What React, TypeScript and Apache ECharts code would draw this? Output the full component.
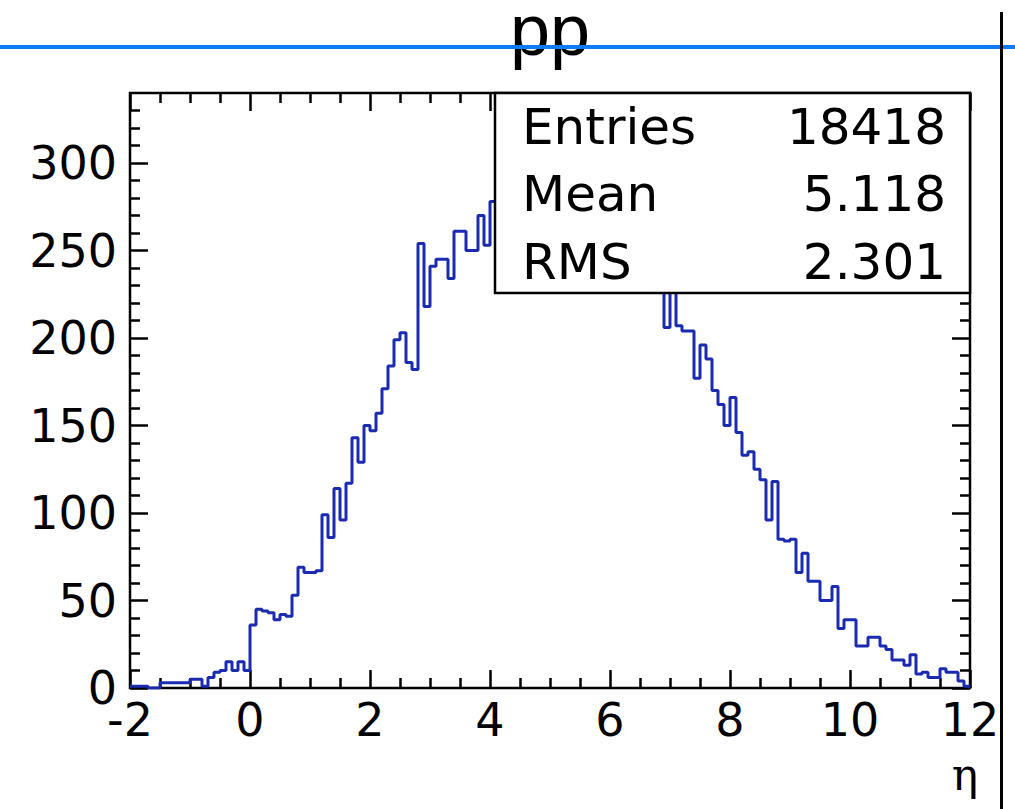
import React, { useEffect, useRef } from "react";
import * as echarts from "echarts";

// Histogram definition: 140 bins of width 0.1 from -2 to 12
const binStart = -2;
const binWidth = 0.1;
const counts = [
  // -2.0 .. -0.1
  1, 1, 1, 0, 0, 3, 3, 3, 3, 3, 5, 5, 1, 6, 9, 10, 15, 10, 15, 10,
  // 0.0 .. 2.7
  36, 45, 44, 43, 39, 42, 41, 53, 69, 66, 66, 67, 99, 86, 114, 96, 117, 143, 129, 150,
  147, 157, 171, 184, 199, 203, 186, 182,
  // 2.8 .. 4.0
  254, 218, 241, 245, 245, 234, 261, 261, 250, 250, 270, 253, 278,
  // 4.1 .. 6.8 (mostly behind the stats box)
  282, 271, 287, 291, 278, 294, 289, 297, 284, 300, 291, 286, 302, 292, 284, 295, 280,
  288, 274, 283, 268, 259, 272, 255, 249, 260, 243, 236,
  // 6.9 .. 11.9
  206, 235, 207, 204, 204, 177, 196, 188, 170, 162, 150, 166, 146, 133, 135, 125, 119,
  96, 118, 85, 84, 85, 66, 77, 61, 61, 50, 50, 58, 34, 39, 39, 24, 24, 29, 29, 24, 22,
  16, 16, 13, 19, 8, 9, 6, 6, 11, 9, 9, 4, 1,
];

const xMajorTicks = [-2, 0, 2, 4, 6, 8, 10, 12];
const xMinorTicks = [
  -1.5, -1, -0.5, 0.5, 1, 1.5, 2.5, 3, 3.5, 4.5, 5, 5.5, 6.5, 7, 7.5, 8.5, 9, 9.5,
  10.5, 11, 11.5,
];
const yMajorTicks = [0, 50, 100, 150, 200, 250, 300];
const yMinorTicks = [
  10, 20, 30, 40, 60, 70, 80, 90, 110, 120, 130, 140, 160, 170, 180, 190, 210, 220,
  230, 240, 260, 270, 280, 290, 310, 320, 330,
];

const statsLabels = ["Entries", "Mean", "RMS"];
const statsValues = ["18418", "5.118", "2.301"];
const titleText = "pp";
const xTitle = "η";

export default function App() {
  const ref = useRef<HTMLDivElement>(null);

  useEffect(() => {
    if (!ref.current) return;
    const chart = echarts.init(ref.current, undefined, { renderer: "svg" });

    const stepData: [number, number][] = counts.map((c, i) => [
      +(binStart + i * binWidth).toFixed(2),
      c,
    ]);
    stepData.push([
      +(binStart + counts.length * binWidth).toFixed(2),
      counts[counts.length - 1],
    ]);

    const tickStyle = { color: "#000", width: 2.5 };
    const labelFont = {
      fontFamily: "DejaVu Sans",
      fontSize: 46,
      color: "#000",
    };

    const baseX = {
      type: "value" as const,
      min: -2,
      max: 12,
      gridIndex: 0,
      splitLine: { show: false },
      axisLine: { show: false, onZero: false },
    };
    const baseY = {
      type: "value" as const,
      min: 0,
      max: 340,
      gridIndex: 0,
      splitLine: { show: false },
      axisLine: { show: false, onZero: false },
    };

    const mkTick = (vals: number[], len: number) => ({
      show: true,
      inside: true,
      length: len,
      customValues: vals,
      lineStyle: tickStyle,
    });

    const statsGraphics: any[] = [];
    const rowY = [127, 194, 262];
    statsLabels.forEach((lab, i) => {
      statsGraphics.push({
        type: "text",
        x: 522,
        y: rowY[i],
        z: 21,
        style: {
          text: lab,
          fontFamily: "DejaVu Sans",
          fontSize: 50,
          fill: "#000",
          textAlign: "left",
          textVerticalAlign: "middle",
        },
      });
      statsGraphics.push({
        type: "text",
        x: 946,
        y: rowY[i],
        z: 21,
        style: {
          text: statsValues[i],
          fontFamily: "DejaVu Sans",
          fontSize: 50,
          fill: "#000",
          textAlign: "right",
          textVerticalAlign: "middle",
        },
      });
    });

    chart.setOption({
      animation: false,
      backgroundColor: "#fff",
      grid: {
        left: 130,
        top: 93,
        width: 840,
        height: 595,
        show: true,
        borderColor: "#000",
        borderWidth: 2.5,
        backgroundColor: "#fff",
      },
      xAxis: [
        {
          ...baseX,
          position: "bottom",
          axisLabel: {
            ...labelFont,
            lineHeight: 32,
            margin: 16,
            customValues: xMajorTicks,
            showMinLabel: true,
            showMaxLabel: true,
          },
          axisTick: mkTick(xMajorTicks, 18),
        },
        {
          ...baseX,
          position: "bottom",
          axisLabel: { show: false },
          axisTick: mkTick(xMinorTicks, 10),
        },
        {
          ...baseX,
          position: "top",
          axisLabel: { show: false },
          axisTick: mkTick(xMajorTicks, 18),
        },
        {
          ...baseX,
          position: "top",
          axisLabel: { show: false },
          axisTick: mkTick(xMinorTicks, 10),
        },
      ],
      yAxis: [
        {
          ...baseY,
          position: "left",
          axisLabel: {
            ...labelFont,
            lineHeight: 30,
            margin: 13,
            customValues: yMajorTicks,
            showMinLabel: true,
          },
          axisTick: mkTick(yMajorTicks, 18),
        },
        {
          ...baseY,
          position: "left",
          axisLabel: { show: false },
          axisTick: mkTick(yMinorTicks, 10),
        },
        {
          ...baseY,
          position: "right",
          axisLabel: { show: false },
          axisTick: mkTick(yMajorTicks, 18),
        },
        {
          ...baseY,
          position: "right",
          axisLabel: { show: false },
          axisTick: mkTick(yMinorTicks, 10),
        },
      ],
      series: [
        {
          type: "line",
          xAxisIndex: 0,
          yAxisIndex: 0,
          step: "end",
          symbol: "none",
          data: stepData,
          lineStyle: { color: "#1a2bb0", width: 3 },
          z: 3,
        },
      ],
      graphic: [
        {
          type: "rect",
          z: 20,
          shape: { x: 495, y: 93, width: 475, height: 200 },
          style: { fill: "#fff", stroke: "#000", lineWidth: 2.5 },
        },
        ...statsGraphics,
        {
          type: "text",
          x: 550,
          y: 30,
          z: 20,
          style: {
            text: titleText,
            fontFamily: "Liberation Sans",
            fontSize: 72,
            lineHeight: 50,
            fill: "#000",
            textAlign: "center",
            textVerticalAlign: "middle",
          },
        },
        {
          type: "line",
          z: 25,
          shape: { x1: 0, y1: 47, x2: 1015, y2: 47 },
          style: { stroke: "#0b7cf5", lineWidth: 4 },
        },
        {
          type: "line",
          z: 25,
          shape: { x1: 1001.5, y1: 12, x2: 1001.5, y2: 809 },
          style: { stroke: "#000", lineWidth: 3 },
        },
        {
          type: "text",
          x: 965,
          y: 774,
          z: 20,
          style: {
            text: xTitle,
            fontFamily: "DejaVu Serif",
            fontSize: 44,
            fill: "#000",
            textAlign: "center",
            textVerticalAlign: "middle",
          },
        },
      ],
    });

    return () => chart.dispose();
  }, []);

  return (
    <div
      ref={ref}
      style={{ position: "fixed", left: 0, top: 0, width: 1015, height: 809 }}
    />
  );
}
